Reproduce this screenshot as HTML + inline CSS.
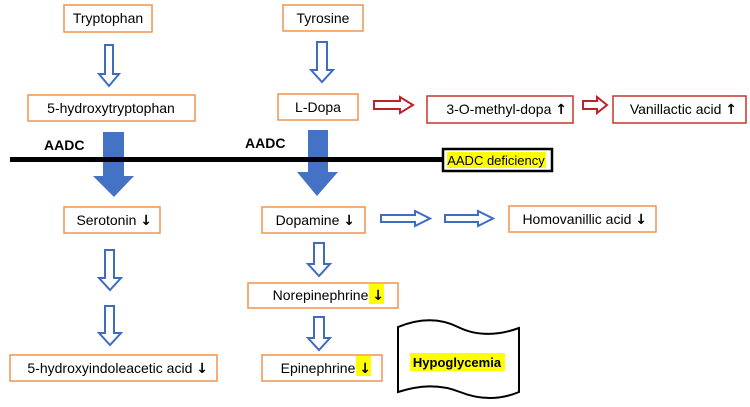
<!DOCTYPE html>
<html><head><meta charset="utf-8"><style>
html,body{margin:0;padding:0;background:#fff;}
svg{display:block;}
text{font-family:"Liberation Sans",sans-serif;font-size:14px;fill:#000;}
.a{font-weight:bold;font-family:"DejaVu Sans",sans-serif;font-size:14px;}
</style></head><body>
<svg width="750" height="407" viewBox="0 0 750 407" xmlns="http://www.w3.org/2000/svg">
<g fill="#fff" stroke="#f0944d" stroke-width="1.5">
<rect x="64" y="5" width="88" height="27"/>
<rect x="283" y="5" width="80" height="26"/>
<rect x="28" y="95" width="167" height="26"/>
<rect x="278" y="94" width="80" height="26"/>
<rect x="64" y="207" width="96" height="26"/>
<rect x="262" y="207" width="103" height="26"/>
<rect x="509" y="206" width="147" height="26"/>
<rect x="10" y="355" width="207" height="26"/>
<rect x="248" y="283" width="150" height="25"/>
<rect x="262" y="355" width="120" height="26"/>
</g>
<g fill="#fff" stroke="#c0392b" stroke-width="1.5">
<rect x="427" y="96" width="146" height="27"/>
<rect x="613" y="96" width="133" height="27"/>
</g>
<g fill="#fff" stroke="#c0202a" stroke-width="2">
<path d="M374,101 H400 V97 L413,105 L400,113 V109 H374 Z"/>
<path d="M583,101 H597 V97 L607,105 L597,113 V109 H583 Z"/>
</g>
<g fill="#fff" stroke="#3d6cc0" stroke-width="2">
<path d="M105,45 H113 V74 H119 L109,86 L99,74 H105 Z"/>
<path d="M317,42 H327 V70 H333 L322,82 L311,70 H317 Z"/>
<path d="M105,250 H114 V278 H121 L110,290 L99,278 H105 Z"/>
<path d="M105,306 H114 V333 H121 L110,345 L99,333 H105 Z"/>
<path d="M314,243 H324 V264 H330 L319,276 L308,264 H314 Z"/>
<path d="M314,317 H324 V338 H330 L319,350 L308,338 H314 Z"/>
<path d="M381,215 H415 V211 L430,218.5 L415,226 V222 H381 Z"/>
<path d="M445,215 H478 V211 L493,218.5 L478,226 V222 H445 Z"/>
</g>
<g fill="#4472c4">
<path d="M103,132 H124 V176 H134 L114,197 L93,176 H103 Z"/>
<path d="M308,130 H328 V172 H338 L317,196 L297,172 H308 Z"/>
</g>
<rect x="10" y="157" width="433" height="5" fill="#000"/>
<rect x="443" y="149" width="109" height="22" fill="#fff" stroke="#000" stroke-width="2.5"/>
<rect x="447" y="152" width="99" height="16" fill="#ffff00"/>
<path d="M398,327 C420,318 440,318 458,327 C478,337 500,335 519,328 V392 C500,400 480,400 460,392 C440,384 420,385 398,392 Z" fill="#fff" stroke="#000" stroke-width="2"/>
<rect x="410" y="353" width="95" height="18" fill="#ffff00"/>
<rect x="369" y="284" width="15" height="20" fill="#ffff00"/>
<rect x="356" y="356" width="15" height="20" fill="#ffff00"/>
<text x="108" y="23" text-anchor="middle">Tryptophan</text>
<text x="323" y="23" text-anchor="middle">Tyrosine</text>
<text x="111" y="113" text-anchor="middle">5-hydroxytryptophan</text>
<text x="318" y="112" text-anchor="middle">L-Dopa</text>
<text x="44" y="150" style="font-weight:bold">AADC</text>
<text x="245" y="148" style="font-weight:bold">AADC</text>
<text x="496" y="165" text-anchor="middle" style="font-size:13px">AADC deficiency</text>
<text x="567" y="114" text-anchor="end">3-O-methyl-dopa <tspan class="a">↑</tspan></text>
<text x="737" y="114" text-anchor="end">Vanillactic acid <tspan class="a">↑</tspan></text>
<text x="152" y="225" text-anchor="end">Serotonin <tspan class="a">↓</tspan></text>
<text x="355" y="225" text-anchor="end">Dopamine <tspan class="a">↓</tspan></text>
<text x="647" y="224" text-anchor="end">Homovanillic acid <tspan class="a">↓</tspan></text>
<text x="208" y="373" text-anchor="end">5-hydroxyindoleacetic acid <tspan class="a">↓</tspan></text>
<text x="384" y="300" text-anchor="end">Norepinephrine <tspan class="a">↓</tspan></text>
<text x="371" y="373" text-anchor="end">Epinephrine <tspan class="a">↓</tspan></text>
<text x="457" y="367" text-anchor="middle" style="font-weight:bold;font-size:13px">Hypoglycemia</text>
</svg>
</body></html>
